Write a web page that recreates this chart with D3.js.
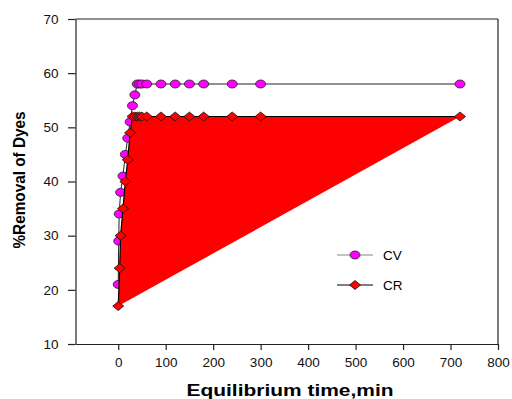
<!DOCTYPE html>
<html><head><meta charset="utf-8">
<script src="https://cdn.jsdelivr.net/npm/d3@7"></script>
<style>body{margin:0;background:#fff}svg{display:block}text{font-family:"Liberation Sans",Arial,sans-serif}</style>
</head><body><svg id="c" width="512" height="399"></svg>
<script>
const cvTime = [0, 1, 2, 5, 10, 15, 20, 25, 30, 35, 40, 45, 50, 60, 90, 120, 150, 180, 240, 300, 720];
const cvValues = [21, 29, 34, 38, 41, 45, 48, 51, 54, 56, 58, 58, 58, 58, 58, 58, 58, 58, 58, 58, 58];
const crTime = [0, 3, 5, 10, 15, 20, 25, 30, 35, 40, 45, 50, 60, 90, 120, 150, 180, 240, 300, 720];
const crValues = [17, 24, 30, 35, 40, 44, 49, 52, 52, 52, 52, 52, 52, 52, 52, 52, 52, 52, 52, 52];
const xTicks = [0, 100, 200, 300, 400, 500, 600, 700, 800];
const yTicks = [10, 20, 30, 40, 50, 60, 70];
const seriesNames = ["CV", "CR"];

const svg = d3.select("#c");
const L = 75.5, R = 498, T = 19, B = 344;
const x = d3.scaleLinear().domain([-90, 800]).range([L, R]);
const y = d3.scaleLinear().domain([10, 70]).range([B, T]);

// frame
svg.append("line").attr("x1", L).attr("x2", R).attr("y1", T).attr("y2", T).attr("stroke", "#222").attr("stroke-width", 1.2);
svg.append("line").attr("x1", R).attr("x2", R).attr("y1", T).attr("y2", B).attr("stroke", "#222").attr("stroke-width", 1.2);

const yAxis = svg.append("g").attr("transform", `translate(${L},0)`)
  .call(d3.axisLeft(y).tickValues(yTicks).tickSize(7.5).tickPadding(9.5).tickSizeOuter(0));
const xAxis = svg.append("g").attr("transform", `translate(0,${B})`)
  .call(d3.axisBottom(x).tickValues(xTicks).tickSize(6).tickPadding(7).tickSizeOuter(0));
[yAxis, xAxis].forEach(g => {
  g.selectAll("path,line").attr("stroke", "#222").attr("stroke-width", 1.2);
  g.selectAll("text").attr("font-size", 13.5).attr("fill", "#111").attr("font-family", "Liberation Sans, Arial, sans-serif");
});

const cr = crTime.map((t, i) => [t, crValues[i]]);
const cv = cvTime.map((t, i) => [t, cvValues[i]]);
const line = d3.line().x(p => x(p[0])).y(p => y(p[1]));

// CV line & markers
svg.append("path").datum(cv)
  .attr("d", line)
  .attr("fill", "none").attr("stroke", "#222").attr("stroke-width", 1);
svg.append("g").selectAll("ellipse").data(cv).join("ellipse")
  .attr("cx", d => x(d[0])).attr("cy", d => y(d[1])).attr("rx", 5).attr("ry", 4)
  .attr("fill", "#ff00ff").attr("stroke", "#222").attr("stroke-width", 0.8);

// red fill of CR polygon
svg.append("path").datum(cr)
  .attr("d", d => line(d) + "Z")
  .attr("fill", "#ff0000").attr("stroke", "none");

// CR line & markers
svg.append("path").datum(cr)
  .attr("d", line)
  .attr("fill", "none").attr("stroke", "#000").attr("stroke-width", 1.2);
const diamond = (cx, cy) => `M${cx - 5.5},${cy}L${cx},${cy - 4.5}L${cx + 5.5},${cy}L${cx},${cy + 4.5}Z`;
svg.append("g").selectAll("path").data(cr).join("path")
  .attr("d", d => diamond(x(d[0]), y(d[1])))
  .attr("fill", "#ff0000").attr("stroke", "#111").attr("stroke-width", 0.8);

// legend
const lg = svg.append("g");
lg.append("line").attr("x1", 337).attr("x2", 373).attr("y1", 255).attr("y2", 255).attr("stroke", "#888").attr("stroke-width", 1.2);
lg.append("ellipse").attr("cx", 355).attr("cy", 255).attr("rx", 5).attr("ry", 4).attr("fill", "#ff00ff").attr("stroke", "#222").attr("stroke-width", 0.8);
lg.append("text").attr("x", 383).attr("y", 260).attr("font-size", 13.5).text(seriesNames[0]);
lg.append("line").attr("x1", 337).attr("x2", 373).attr("y1", 285).attr("y2", 285).attr("stroke", "#000").attr("stroke-width", 1.2);
lg.append("path").attr("d", diamond(355, 285)).attr("fill", "#ff0000").attr("stroke", "#111").attr("stroke-width", 0.8);
lg.append("text").attr("x", 383).attr("y", 290).attr("font-size", 13.5).text(seriesNames[1]);

// titles
svg.append("text").attr("x", 290).attr("y", 396).attr("text-anchor", "middle")
  .attr("font-size", 17).attr("font-weight", "bold")
  .attr("textLength", 207).attr("lengthAdjust", "spacingAndGlyphs").text("Equilibrium time,min");
svg.append("text").attr("transform", "translate(25,180) rotate(-90)").attr("text-anchor", "middle")
  .attr("font-size", 17).attr("font-weight", "bold")
  .attr("textLength", 137).attr("lengthAdjust", "spacingAndGlyphs").text("%Removal of Dyes");
</script></body></html>
